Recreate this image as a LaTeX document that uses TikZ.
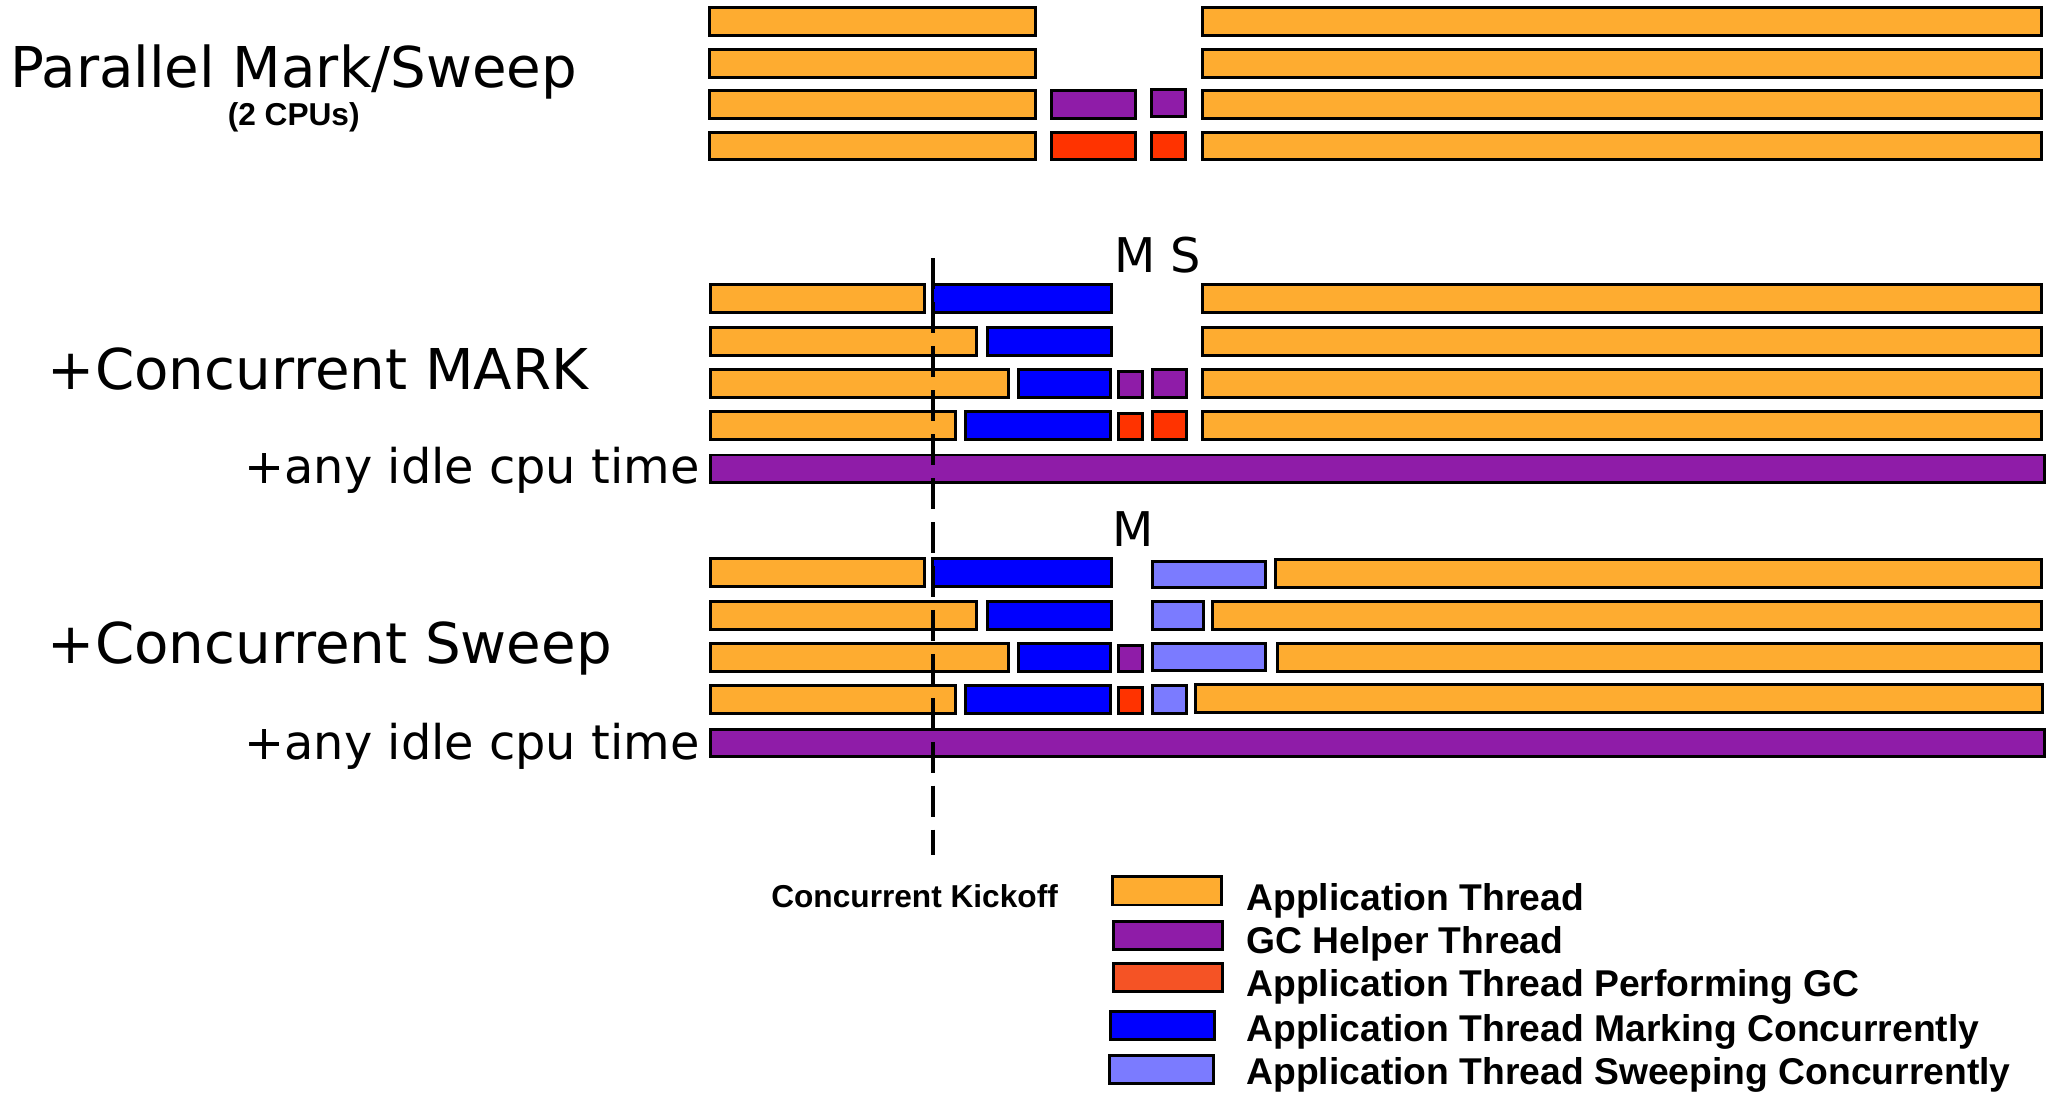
\documentclass[tikz,border=0pt]{standalone}
\usepackage{fontspec}
\setmainfont{DejaVu Sans}
\newfontfamily\keyfont{Liberation Sans}
\usetikzlibrary{positioning}
\definecolor{appthread}{HTML}{FEAC30}
\definecolor{gchelper}{HTML}{8F1CA8}
\definecolor{appgc}{HTML}{FF3300}
\definecolor{appgckey}{HTML}{F55325}
\definecolor{appmark}{HTML}{0000FF}
\definecolor{appsweep}{HTML}{7B7BFF}
\tikzset{
  gcbar/.style={draw=black,line width=0.85pt},
  appbar/.style={gcbar,fill=appthread},
  helperbar/.style={gcbar,fill=gchelper},
  gcworkbar/.style={gcbar,fill=appgc},
  markbar/.style={gcbar,fill=appmark},
  sweepbar/.style={gcbar,fill=appsweep},
  keybox/.style={draw=black,line width=0.85pt,minimum width=1.09cm,minimum height=0.28cm,inner sep=0pt},
  keytext/.style={anchor=base west,inner sep=0pt,font=\keyfont\bfseries\fontsize{10.6}{12}\selectfont},
  rowtitle/.style={inner sep=0pt,font=\fontsize{16}{19}\selectfont},
  rownote/.style={inner sep=0pt,font=\fontsize{13.6}{16}\selectfont},
  kickline/.style={draw=black,line width=1pt,dash pattern=on 8.8pt off 3.7pt},
}
\begin{document}
\begin{tikzpicture}[x=0.013112cm,y=-0.013112cm]
  \useasboundingbox (0,0) rectangle (1568,835);

  % parallel mark/sweep, 2 cpus
  \node[rowtitle,anchor=base] (pmstitle) at (224,67) {Parallel Mark/Sweep};
  \node[inner sep=0pt,anchor=base,font=\keyfont\bfseries\fontsize{9}{11}\selectfont] (pmscpus) at (224,96) {(2 CPUs)};
  \foreach \y in {6,38,69,101} {
    \draw[appbar] (541,\y) rectangle (790,\y+21);
    \draw[appbar] (917,\y) rectangle (1557,\y+21);
  }
  \draw[helperbar] (802,69) rectangle (866,90); \draw[helperbar] (878,68) rectangle (904,89);
  \draw[gcworkbar] (802,101) rectangle (866,122); \draw[gcworkbar] (878,101) rectangle (904,122);

  % concurrent mark / concurrent sweep, same mark phase
  \node[rowtitle,anchor=base west] (cmtitle) at (36,297) {+Concurrent MARK};
  \node[rowtitle,anchor=base west] (cstitle) at (36,506) {+Concurrent Sweep};
  \node[rownote,anchor=base east] (cmidle) at (534,369) {+any idle cpu time};
  \node[rownote,anchor=base east] (csidle) at (534,579) {+any idle cpu time};
  \node[rownote,anchor=base] (cmphase) at (883,208) {M S};
  \node[rownote,anchor=base] (csphase) at (864,417) {M};
  \foreach \off in {0,209} {
    \draw[appbar] (542,217+\off) rectangle (705,238+\off); \draw[markbar] (711,217+\off) rectangle (848,238+\off);
    \draw[appbar] (542,250+\off) rectangle (745,271+\off); \draw[markbar] (753,250+\off) rectangle (848,271+\off);
    \draw[appbar] (542,282+\off) rectangle (769,303+\off); \draw[markbar] (777,282+\off) rectangle (847,303+\off);
    \draw[appbar] (542,314+\off) rectangle (729,335+\off); \draw[markbar] (736,314+\off) rectangle (847,335+\off);
    \draw[helperbar] (853,283+\off) rectangle (871,303+\off);
    \draw[gcworkbar] (853,315+\off) rectangle (871,335+\off);
    \draw[helperbar] (542,347+\off) rectangle (1559,368+\off);
  }
  % after the mark: stop-the-world sweep
  \foreach \y in {217,250,282,314} \draw[appbar] (917,\y) rectangle (1557,\y+21);
  \draw[helperbar] (879,282) rectangle (905,303);
  \draw[gcworkbar] (879,314) rectangle (905,335);
  % after the mark: concurrent sweep
  \draw[sweepbar] (879,428) rectangle (965,448); \draw[appbar] (973,427) rectangle (1557,448);
  \draw[sweepbar] (879,459) rectangle (918,480); \draw[appbar] (925,459) rectangle (1557,480);
  \draw[sweepbar] (879,491) rectangle (965,511); \draw[appbar] (974,491) rectangle (1557,512);
  \draw[sweepbar] (879,523) rectangle (905,544); \draw[appbar] (912,522) rectangle (1558,543);

  % kickoff marker
  \coordinate (kicktop) at (711.5,197);
  \coordinate (kickbot) at (711.5,652);
  \draw[kickline] (kicktop) -- (kickbot);
  \node[inner sep=0pt,anchor=base,font=\keyfont\bfseries\fontsize{9}{11}\selectfont] (kicklabel) at (697.5,692) {Concurrent Kickoff};

  % legend
  \node[keybox,fill=appthread] (keyapp) at (890,679.5) {};
  \node[keybox,fill=gchelper] (keyhelper) at (891,713.5) {};
  \node[keybox,fill=appgckey] (keygc) at (891,745.5) {};
  \node[keybox,fill=appmark,minimum width=1.04cm] (keymark) at (886.5,782) {};
  \node[keybox,fill=appsweep,minimum width=1.04cm] (keysweep) at (885.5,816) {};
  \node[keytext] (txtapp) at (950,694) {Application Thread};
  \node[keytext] (txthelper) at (950,727) {GC Helper Thread};
  \node[keytext] (txtgc) at (950,760) {Application Thread Performing GC};
  \node[keytext] (txtmark) at (950,794) {Application Thread Marking Concurrently};
  \node[keytext] (txtsweep) at (950,827) {Application Thread Sweeping Concurrently};
\end{tikzpicture}
\end{document}
